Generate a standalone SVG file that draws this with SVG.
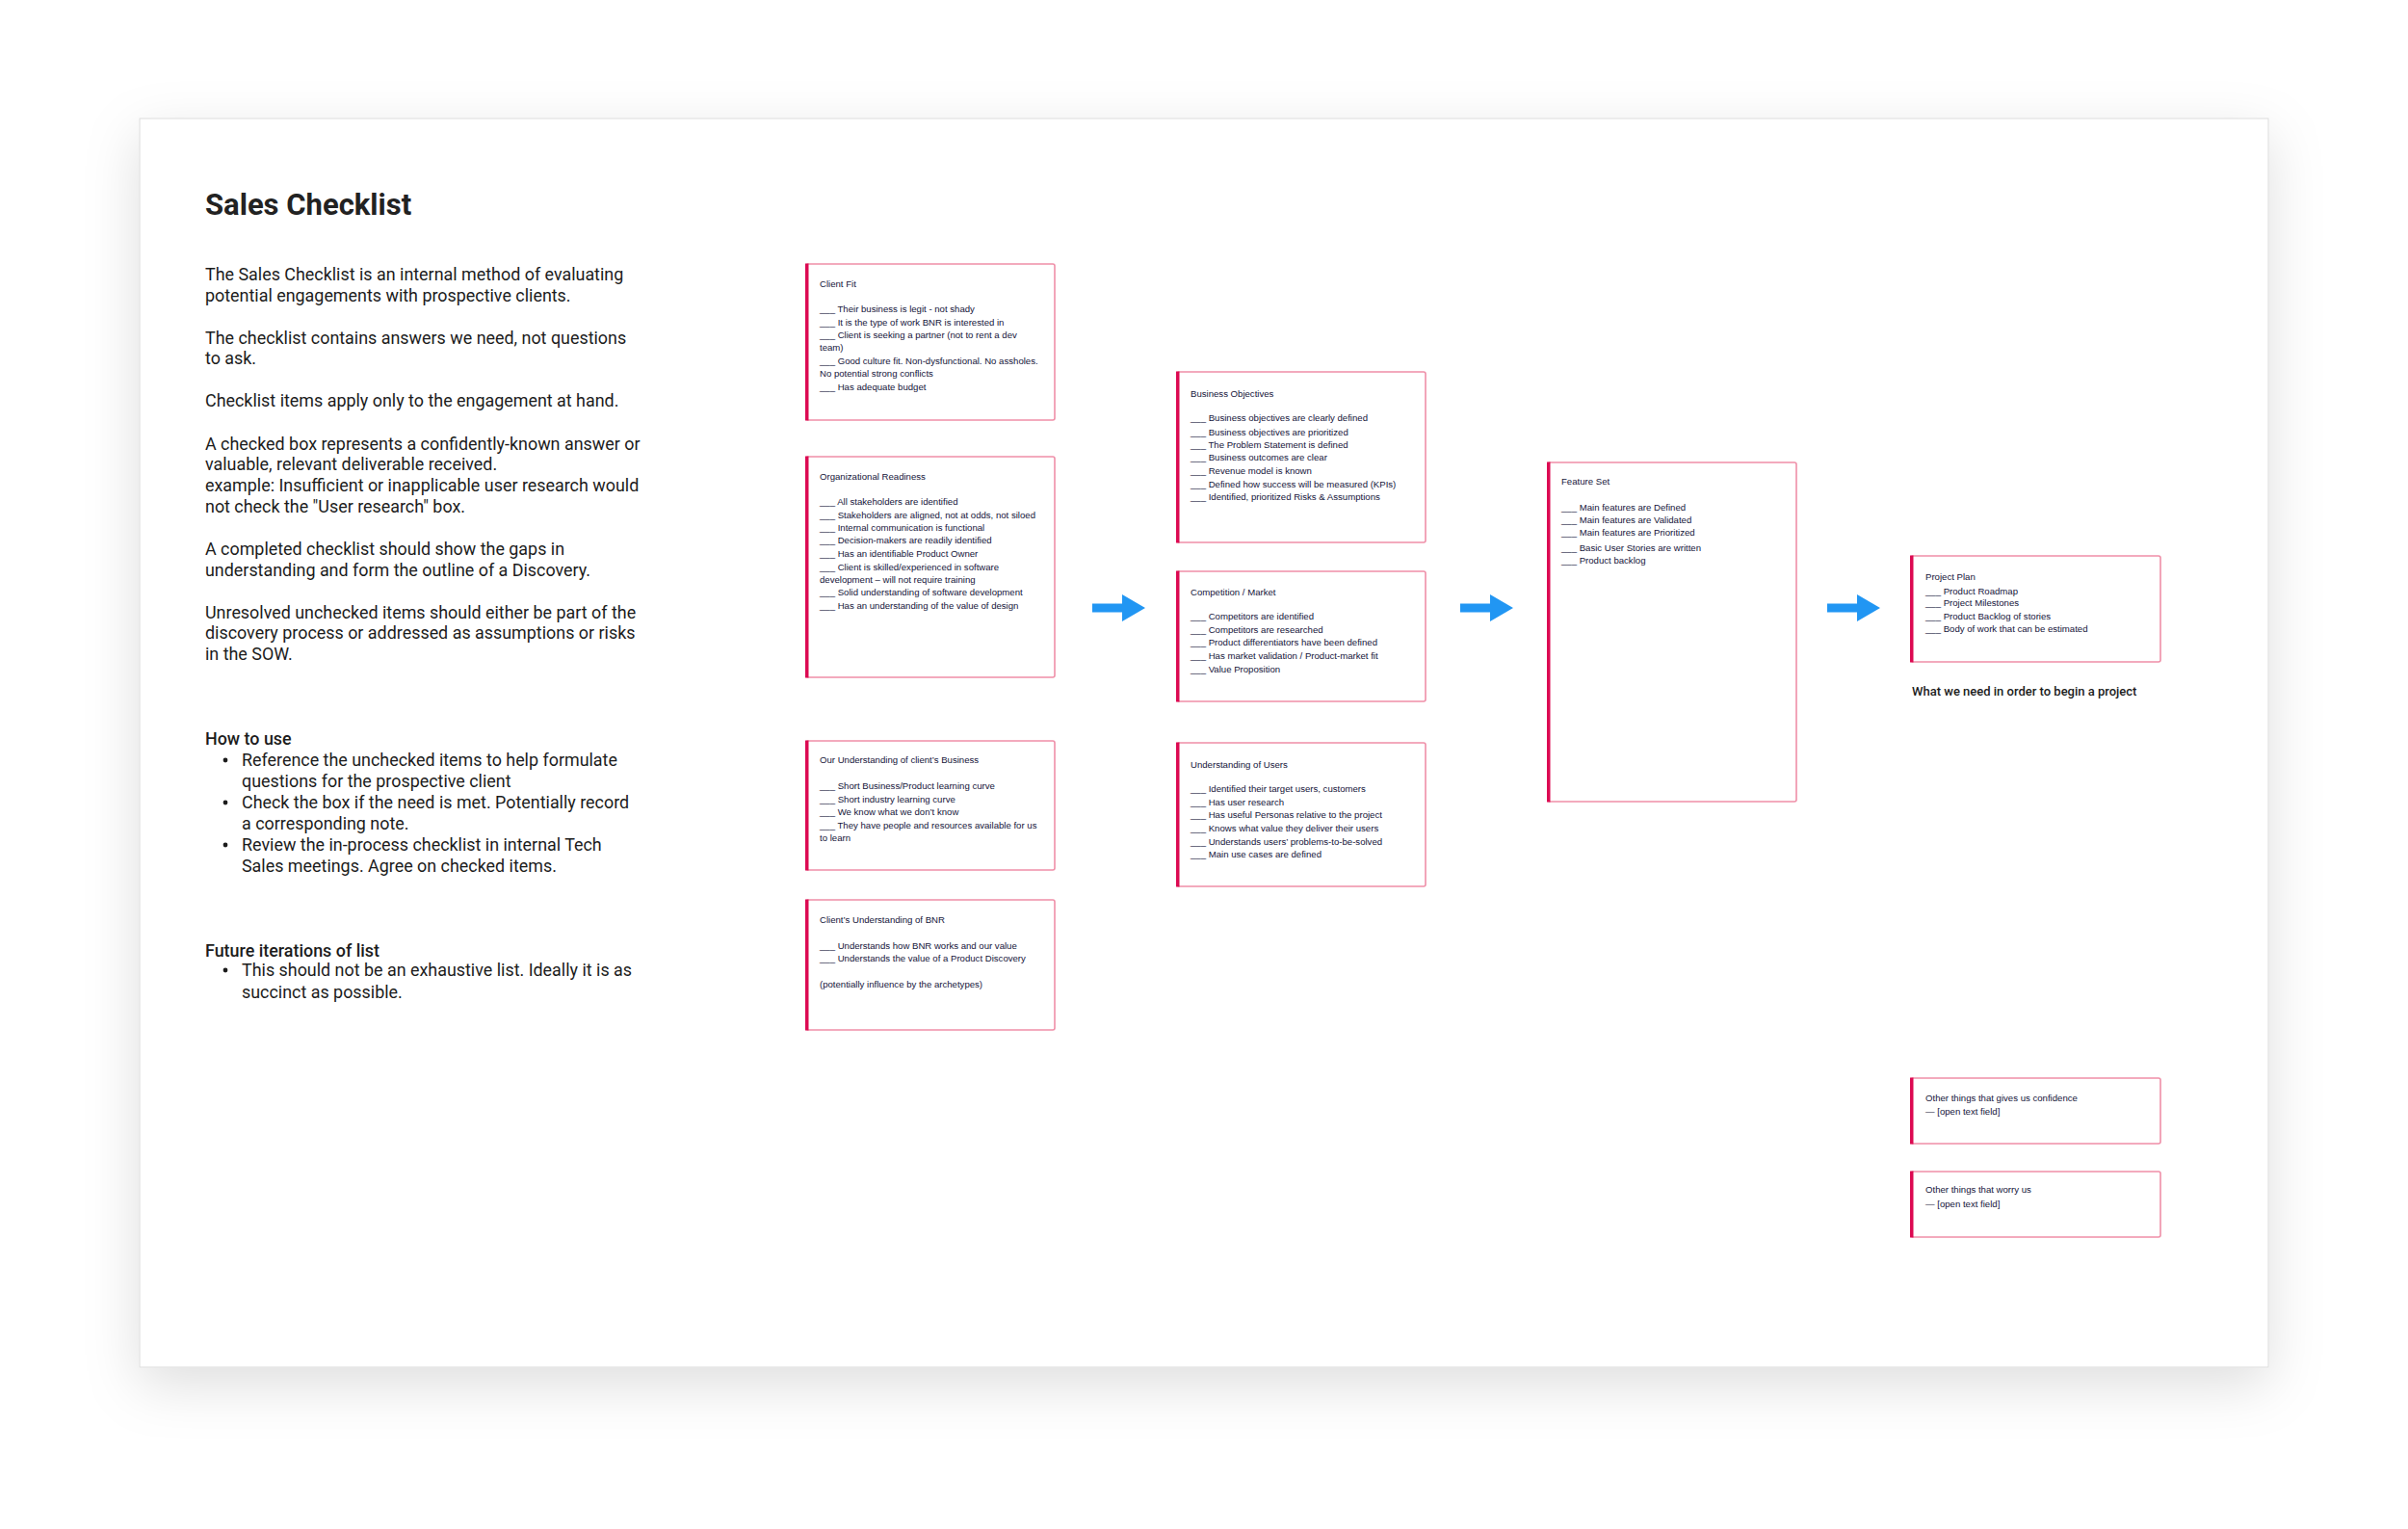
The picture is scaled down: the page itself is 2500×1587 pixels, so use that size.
<svg xmlns="http://www.w3.org/2000/svg" width="2500" height="1587" viewBox="0 0 2500 1587">
<defs>
<filter id="shadow" x="-10%" y="-15%" width="120%" height="135%">
<feDropShadow dx="0" dy="18" stdDeviation="28" flood-color="#000" flood-opacity="0.13"/>
</filter>
</defs>
<style>
.card{fill:#fff;stroke:#dcdcdc;stroke-width:1}
.box{fill:#fff;stroke:#ef8fa8;stroke-width:1.6}
.bar{fill:#dc0a52}
.bt{font-family:"Liberation Sans",Arial,sans-serif;font-size:9.6px;fill:#14143a}
.h1{font-family:Roboto,"Liberation Sans",sans-serif;font-size:31px;font-weight:700;fill:#222}
.p{font-family:Roboto,"Liberation Sans",sans-serif;font-size:17.9px;fill:#1c1c1c}
.hb{font-family:Roboto,"Liberation Sans",sans-serif;font-size:17.9px;font-weight:500;fill:#1c1c1c}
.cap{font-family:Roboto,"Liberation Sans",sans-serif;font-size:13px;font-weight:500;fill:#1c1c1c}
.arrow{fill:#2196f3}
</style>
<rect width="2500" height="1587" fill="#fff"/>
<rect class="card" x="145" y="123" width="2210" height="1296" filter="url(#shadow)"/>

<g id="intro">
<text class="h1" x="213" y="223">Sales Checklist</text>
<text class="p" x="213" y="291">The Sales Checklist is an internal method of evaluating</text>
<text class="p" x="213" y="313">potential engagements with prospective clients.</text>
<text class="p" x="213" y="357">The checklist contains answers we need, not questions</text>
<text class="p" x="213" y="378">to ask.</text>
<text class="p" x="213" y="422">Checklist items apply only to the engagement at hand.</text>
<text class="p" x="213" y="467">A checked box represents a confidently-known answer or</text>
<text class="p" x="213" y="488">valuable, relevant deliverable received.</text>
<text class="p" x="213" y="510">example: Insufficient or inapplicable user research would</text>
<text class="p" x="213" y="532">not check the "User research" box.</text>
<text class="p" x="213" y="576">A completed checklist should show the gaps in</text>
<text class="p" x="213" y="598">understanding and form the outline of a Discovery.</text>
<text class="p" x="213" y="642">Unresolved unchecked items should either be part of the</text>
<text class="p" x="213" y="663">discovery process or addressed as assumptions or risks</text>
<text class="p" x="213" y="685">in the SOW.</text>
</g>

<g id="how-to-use">
<text class="hb" x="213" y="773">How to use</text>
<circle cx="234" cy="789" r="2.4" fill="#1c1c1c"/>
<text class="p" x="251" y="795">Reference the unchecked items to help formulate</text>
<text class="p" x="251" y="817">questions for the prospective client</text>
<circle cx="234" cy="833" r="2.4" fill="#1c1c1c"/>
<text class="p" x="251" y="839">Check the box if the need is met. Potentially record</text>
<text class="p" x="251" y="861">a corresponding note.</text>
<circle cx="234" cy="877" r="2.4" fill="#1c1c1c"/>
<text class="p" x="251" y="883">Review the in-process checklist in internal Tech</text>
<text class="p" x="251" y="905">Sales meetings. Agree on checked items.</text>
</g>

<g id="future">
<text class="hb" x="213" y="993">Future iterations of list</text>
<circle cx="234" cy="1007" r="2.4" fill="#1c1c1c"/>
<text class="p" x="251" y="1013">This should not be an exhaustive list. Ideally it is as</text>
<text class="p" x="251" y="1036">succinct as possible.</text>
</g>

<g id="client-fit">
<rect class="box" x="837" y="274" width="258" height="162" rx="2"/>
<rect class="bar" x="836" y="273.5" width="3.5" height="163"/>
<text class="bt" x="851" y="298">Client Fit</text>
<text class="bt" x="851" y="324">___ Their business is legit - not shady</text>
<text class="bt" x="851" y="338">___ It is the type of work BNR is interested in</text>
<text class="bt" x="851" y="351">___ Client is seeking a partner (not to rent a dev</text>
<text class="bt" x="851" y="364">team)</text>
<text class="bt" x="851" y="378">___ Good culture fit. Non-dysfunctional. No assholes.</text>
<text class="bt" x="851" y="391">No potential strong conflicts</text>
<text class="bt" x="851" y="405">___ Has adequate budget</text>
</g>

<g id="org-readiness">
<rect class="box" x="837" y="474" width="258" height="229" rx="2"/>
<rect class="bar" x="836" y="473.5" width="3.5" height="230"/>
<text class="bt" x="851" y="498">Organizational Readiness</text>
<text class="bt" x="851" y="524">___ All stakeholders are identified</text>
<text class="bt" x="851" y="538">___ Stakeholders are aligned, not at odds, not siloed</text>
<text class="bt" x="851" y="551">___ Internal communication is functional</text>
<text class="bt" x="851" y="564">___ Decision-makers are readily identified</text>
<text class="bt" x="851" y="578">___ Has an identifiable Product Owner</text>
<text class="bt" x="851" y="592">___ Client is skilled/experienced in software</text>
<text class="bt" x="851" y="605">development – will not require training</text>
<text class="bt" x="851" y="618">___ Solid understanding of software development</text>
<text class="bt" x="851" y="632">___ Has an understanding of the value of design</text>
</g>

<g id="our-understanding">
<rect class="box" x="837" y="769" width="258" height="134" rx="2"/>
<rect class="bar" x="836" y="768.5" width="3.5" height="135"/>
<text class="bt" x="851" y="792">Our Understanding of client’s Business</text>
<text class="bt" x="851" y="819">___ Short Business/Product learning curve</text>
<text class="bt" x="851" y="833">___ Short industry learning curve</text>
<text class="bt" x="851" y="846">___ We know what we don’t know</text>
<text class="bt" x="851" y="860">___ They have people and resources available for us</text>
<text class="bt" x="851" y="873">to learn</text>
</g>

<g id="client-understanding">
<rect class="box" x="837" y="934" width="258" height="135" rx="2"/>
<rect class="bar" x="836" y="933.5" width="3.5" height="136"/>
<text class="bt" x="851" y="958">Client’s Understanding of BNR</text>
<text class="bt" x="851" y="985">___ Understands how BNR works and our value</text>
<text class="bt" x="851" y="998">___ Understands the value of a Product Discovery</text>
<text class="bt" x="851" y="1025">(potentially influence by the archetypes)</text>
</g>

<g id="business-objectives">
<rect class="box" x="1222" y="386" width="258" height="177" rx="2"/>
<rect class="bar" x="1221" y="385.5" width="3.5" height="178"/>
<text class="bt" x="1236" y="412">Business Objectives</text>
<text class="bt" x="1236" y="437">___ Business objectives are clearly defined</text>
<text class="bt" x="1236" y="452">___ Business objectives are prioritized</text>
<text class="bt" x="1236" y="465">___ The Problem Statement is defined</text>
<text class="bt" x="1236" y="478">___ Business outcomes are clear</text>
<text class="bt" x="1236" y="492">___ Revenue model is known</text>
<text class="bt" x="1236" y="506">___ Defined how success will be measured (KPIs)</text>
<text class="bt" x="1236" y="519">___ Identified, prioritized Risks &amp; Assumptions</text>
</g>

<g id="competition">
<rect class="box" x="1222" y="593" width="258" height="135" rx="2"/>
<rect class="bar" x="1221" y="592.5" width="3.5" height="136"/>
<text class="bt" x="1236" y="618">Competition / Market</text>
<text class="bt" x="1236" y="643">___ Competitors are identified</text>
<text class="bt" x="1236" y="657">___ Competitors are researched</text>
<text class="bt" x="1236" y="670">___ Product differentiators have been defined</text>
<text class="bt" x="1236" y="684">___ Has market validation / Product-market fit</text>
<text class="bt" x="1236" y="698">___ Value Proposition</text>
</g>

<g id="users">
<rect class="box" x="1222" y="771" width="258" height="149" rx="2"/>
<rect class="bar" x="1221" y="770.5" width="3.5" height="150"/>
<text class="bt" x="1236" y="797">Understanding of Users</text>
<text class="bt" x="1236" y="822">___ Identified their target users, customers</text>
<text class="bt" x="1236" y="836">___ Has user research</text>
<text class="bt" x="1236" y="849">___ Has useful Personas relative to the project</text>
<text class="bt" x="1236" y="863">___ Knows what value they deliver their users</text>
<text class="bt" x="1236" y="877">___ Understands users’ problems-to-be-solved</text>
<text class="bt" x="1236" y="890">___ Main use cases are defined</text>
</g>

<g id="feature-set">
<rect class="box" x="1607" y="480" width="258" height="352" rx="2"/>
<rect class="bar" x="1606" y="479.5" width="3.5" height="353"/>
<text class="bt" x="1621" y="503">Feature Set</text>
<text class="bt" x="1621" y="530">___ Main features are Defined</text>
<text class="bt" x="1621" y="543">___ Main features are Validated</text>
<text class="bt" x="1621" y="556">___ Main features are Prioritized</text>
<text class="bt" x="1621" y="572">___ Basic User Stories are written</text>
<text class="bt" x="1621" y="585">___ Product backlog</text>
</g>

<g id="project-plan">
<rect class="box" x="1984" y="577" width="259" height="110" rx="2"/>
<rect class="bar" x="1983" y="576.5" width="3.5" height="111"/>
<text class="bt" x="1999" y="602">Project Plan</text>
<text class="bt" x="1999" y="617">___ Product Roadmap</text>
<text class="bt" x="1999" y="629">___ Project Milestones</text>
<text class="bt" x="1999" y="643">___ Product Backlog of stories</text>
<text class="bt" x="1999" y="656">___ Body of work that can be estimated</text>
<text class="cap" x="1985" y="722">What we need in order to begin a project</text>
</g>

<g id="confidence">
<rect class="box" x="1984" y="1119" width="259" height="68" rx="2"/>
<rect class="bar" x="1983" y="1118.5" width="3.5" height="69"/>
<text class="bt" x="1999" y="1143">Other things that gives us confidence</text>
<text class="bt" x="1999" y="1157">— [open text field]</text>
</g>

<g id="worry">
<rect class="box" x="1984" y="1216" width="259" height="68" rx="2"/>
<rect class="bar" x="1983" y="1215.5" width="3.5" height="69"/>
<text class="bt" x="1999" y="1238">Other things that worry us</text>
<text class="bt" x="1999" y="1253">— [open text field]</text>
</g>

<g id="connectors">
<path class="arrow" d="M1134 626.5 H1165 V617 L1189 631 L1165 645 V635.5 H1134 Z"/>
<path class="arrow" d="M1516 626.5 H1547 V617 L1571 631 L1547 645 V635.5 H1516 Z"/>
<path class="arrow" d="M1897 626.5 H1928 V617 L1952 631 L1928 645 V635.5 H1897 Z"/>
</g>
</svg>
